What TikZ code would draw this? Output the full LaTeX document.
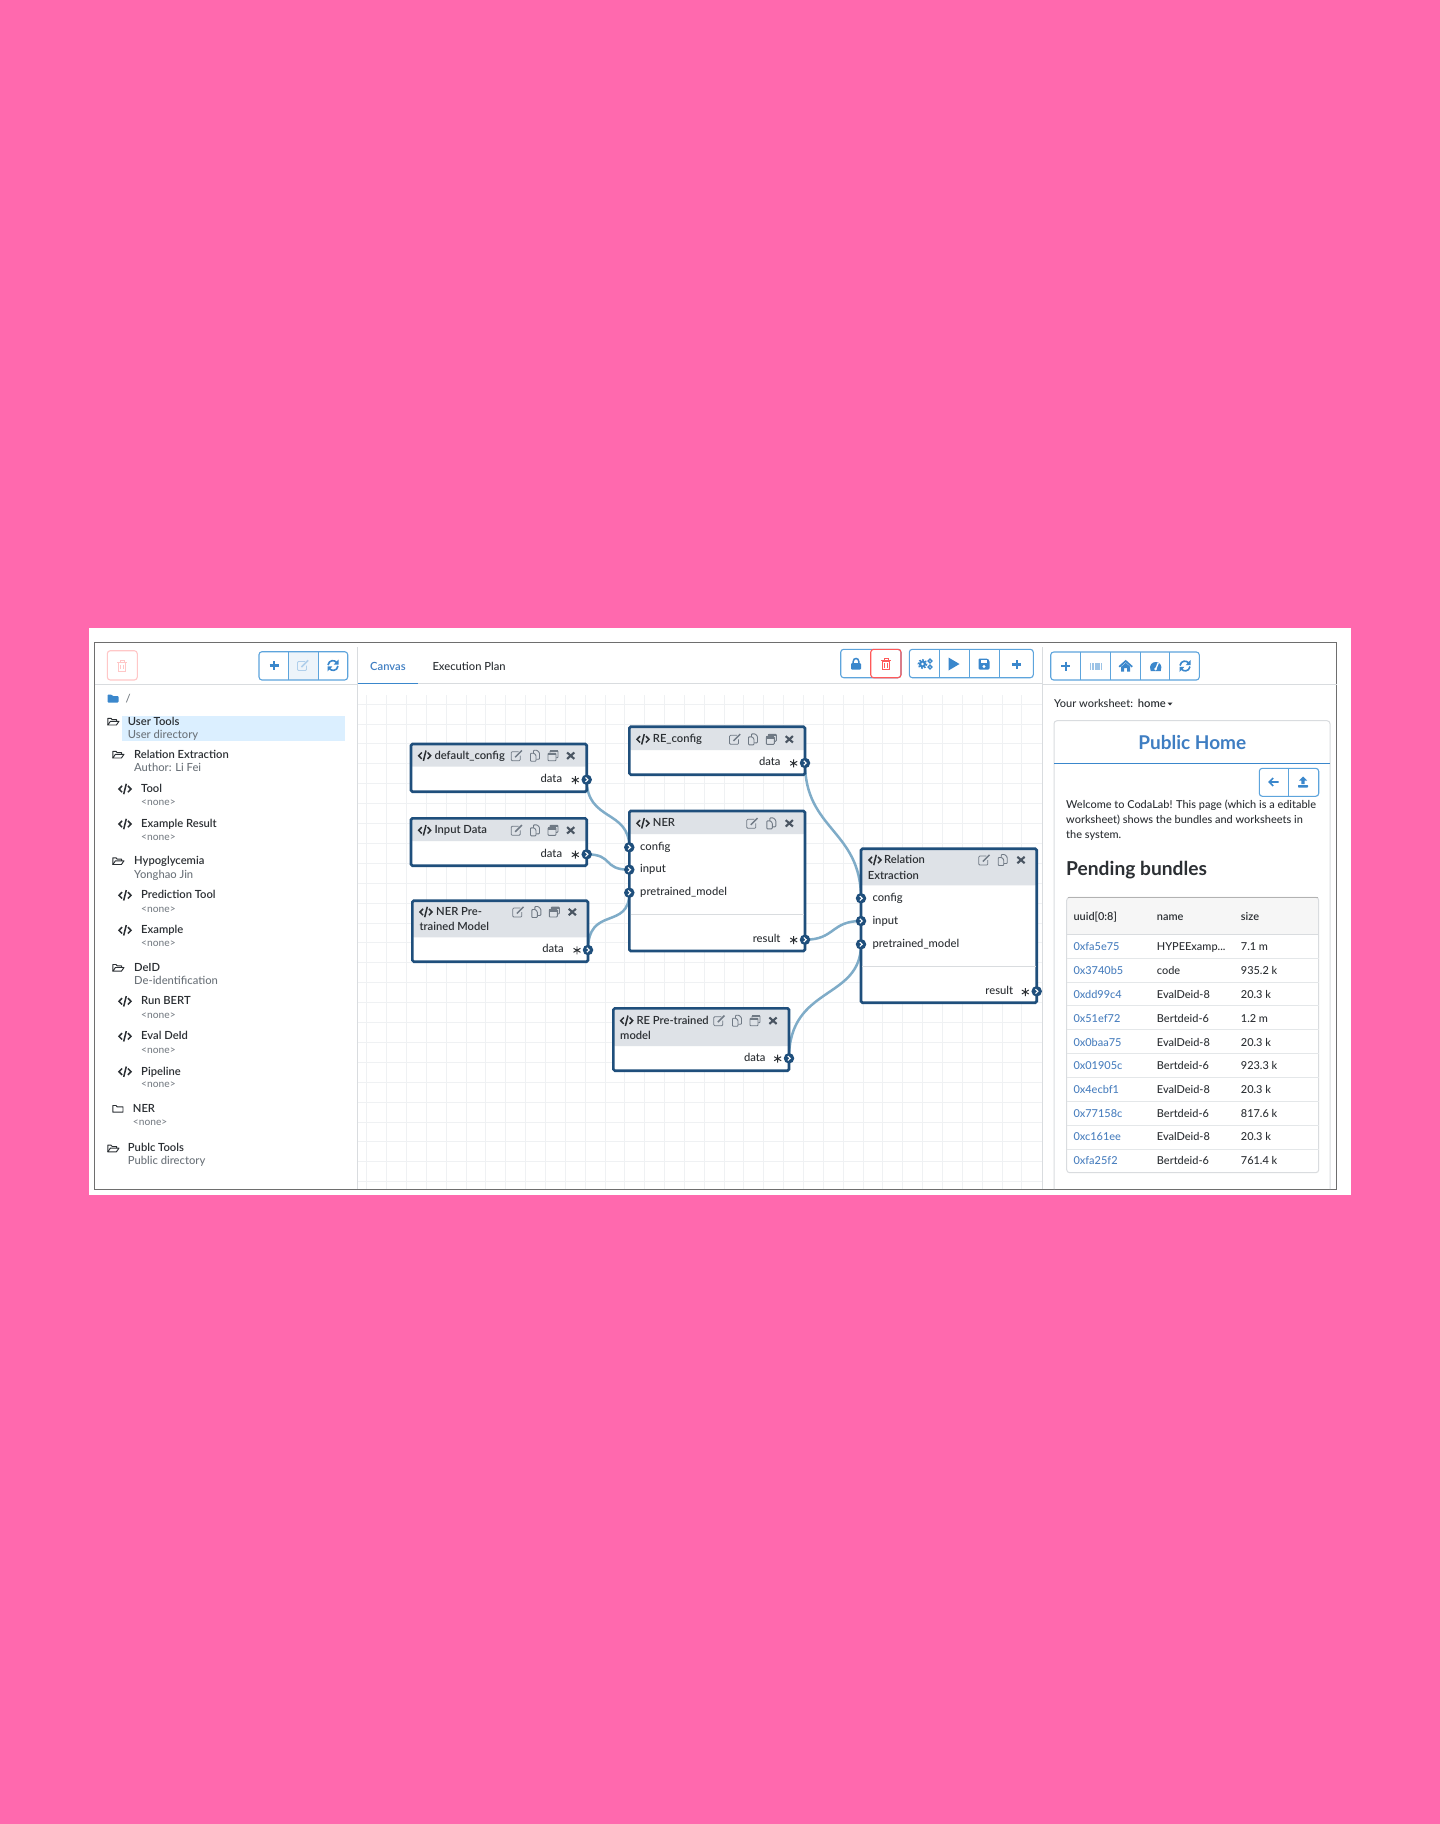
\documentclass[tikz,border=0pt]{standalone}
\usepackage{fontspec}
\setmainfont{Lato Medium}[BoldFont={Lato Bold}]
\newfontfamily\semib{Lato Semibold}
\newfontfamily\heavy{Lato Bold}
\usetikzlibrary{fit}
\pgfdeclarelayer{back}
\pgfsetlayers{back,main}
\definecolor{pagepink}{HTML}{FF69AE}
\definecolor{ink}{HTML}{2B2F33}
\definecolor{subtext}{HTML}{6C737A}
\definecolor{nonetext}{HTML}{7A8087}
\definecolor{blockblue}{HTML}{1F4F7C}
\definecolor{headgrey}{HTML}{DEE2E7}
\definecolor{wireblue}{HTML}{7FACC8}
\definecolor{gridgrey}{HTML}{EFF1F3}
\definecolor{frame}{HTML}{6E6E6E}
\definecolor{rulegrey}{HTML}{D9DCDF}
\definecolor{btnblue}{HTML}{5DA4DC}
\definecolor{icoblue}{HTML}{3A87CC}
\definecolor{linkblue}{HTML}{4B80BF}
\definecolor{titleblue}{HTML}{3F7EC2}
\definecolor{iconcol}{HTML}{707A85}
\definecolor{xcol}{HTML}{4A5562}
\newcounter{tn}
\newcommand\hypename{HYPEExamp...}
\tikzset{
 autoname/.code={\stepcounter{tn}\tikzset{name=t\arabic{tn}}},
 txt/.style={autoname,anchor=west,inner sep=0pt,text=ink,text height=9.3pt,text depth=2.5pt,font=\fontsize{11.2pt}{13pt}\selectfont},
 rtxt/.style={txt,anchor=east},
 title/.style={txt,font=\semib\fontsize{11.2pt}{13pt}\selectfont},
 subt/.style={txt,text=subtext,font=\fontsize{11.2pt}{13pt}\selectfont},
 nonet/.style={txt,text=nonetext,font=\fontsize{10.2pt}{11pt}\selectfont},
 cell/.style={txt,font=\fontsize{10.95pt}{12pt}\selectfont},
 headcell/.style={txt,font=\semib\fontsize{10.95pt}{12pt}\selectfont},
 blockbg/.style={inner sep=0pt,rectangle,fill=white,rounded corners=1.5pt},
 blockhead/.style={inner sep=0pt,rectangle,fill=headgrey,rounded corners=1.5pt},
 blockline/.style={inner sep=0pt,rectangle,draw=blockblue,line width=2.6pt,rounded corners=1.5pt},
 portdot/.style={circle,fill=blockblue,inner sep=0pt,minimum size=10.5pt},
 wire/.style={draw=wireblue,line width=2.5pt,line cap=round},
 btngroup/.style={inner sep=0pt,rectangle,draw=btnblue,line width=1.1pt,rounded corners=3pt},
 btnsep/.style={draw=btnblue,line width=1pt},
 pics/icoedit/.style={code={
  \draw[line width=.8pt,rounded corners=1pt] (2,-4)--(-5.5,-4)--(-5.5,5)--(3.5,5)--(3.5,0);
  \draw[line width=1.5pt] (-1.5,1.5)--(5.2,-5.2);}},
 pics/icocopy/.style={code={
  \draw[line width=.9pt,rounded corners=.8pt] (-1.5,-2)--(-1.5,-5.5)--(2,-5.5)--(4.5,-3)--(4.5,3.5)--(1,3.5);
  \draw[line width=.9pt,rounded corners=.8pt,fill=headgrey] (-4.5,-2.5)--(-1,-2.5)--(1,-.5)--(1,5.5)--(-4.5,5.5)--cycle;}},
 pics/icoclone/.style={code={
  \draw[line width=.9pt,rounded corners=.8pt] (-3,-3)--(-3,-5)--(5,-5)--(5,2)--(3,2);
  \draw[line width=.9pt,rounded corners=.8pt] (-5,-2.5) rectangle (3,5);
  \fill (-5,-3) rectangle (3,-.5); \fill (-3,-5.3) rectangle (5,-3.5);}},
 pics/icotimes/.style={code={
  \draw[line width=2.1pt] (-3.6,-3.2)--(3.6,3.2) (-3.6,3.2)--(3.6,-3.2);}},
 pics/icocode/.style={code={
  \draw[line width=1.5pt] (-2.9,-3.2)--(-6,0)--(-2.9,3.2) (2.9,-3.2)--(6,0)--(2.9,3.2) (1.3,-5.2)--(-1.3,5.2);}},
 pics/icostar/.style={code={
  \draw[line width=.95pt] (0,-4)--(0,4) (-3.5,-2)--(3.5,2) (-3.5,2)--(3.5,-2);}},
 pics/icoplus/.style={code={
  \draw[line width=2.2pt] (-4.5,0)--(4.5,0) (0,-4.5)--(0,4.5);}},
 pics/icorefresh/.style={code={
  \draw[line width=1.6pt] (-5,-.5) .. controls (-4,-6) and (2,-6) .. (4,-2.5);
  \fill (5.5,-6)--(5.5,-.8)--(.6,-.8)--cycle;
  \draw[line width=1.6pt] (5,.5) .. controls (4,6) and (-2,6) .. (-4,2.5);
  \fill (-5.5,6)--(-5.5,.8)--(-.6,.8)--cycle;}},
 pics/icotrash/.style={code={
  \draw[line width=1pt] (-3.8,-3) rectangle (3.8,5.5);
  \draw[line width=1pt] (-5,-3.2)--(5,-3.2) (-2,-3.2)--(-2,-5.3)--(2,-5.3)--(2,-3.2) (-1.3,-1)--(-1.3,3.5) (1.3,-1)--(1.3,3.5);}},
 pics/icolock/.style={code={
  \draw[line width=1.5pt] (-2.8,0)--(-2.8,-2.5) .. controls (-2.8,-6.5) and (2.8,-6.5) .. (2.8,-2.5)--(2.8,0);
  \fill[rounded corners=1pt] (-5,-1) rectangle (5,5.5);}},
 pics/icogears/.style={code={
  \fill (-2.5,0) circle (3.6);
  \draw[line width=1.5pt,dash pattern=on 1.6pt off 1.6pt] (-2.5,0) circle (4.2);
  \fill[white] (-2.5,0) circle (1.3);
  \draw[line width=1.3pt] (5,-3) circle (1.9) (5,3) circle (1.9);}},
 pics/icoplay/.style={code={\fill (-5.5,-6.5)--(5.5,0)--(-5.5,6.5)--cycle;}},
 pics/icosave/.style={code={
  \fill[rounded corners=1.2pt] (-5.5,-5.5)--(3.5,-5.5)--(5.5,-3.5)--(5.5,5.5)--(-5.5,5.5)--cycle;
  \fill[white] (-3.5,-4)rectangle(2.5,-1);
  \fill[white] (0,2.5) circle (1.6);}},
 pics/icobarcode/.style={code={
  \foreach \xx/\ww in {-6/1.2,-4/.7,-2.6/1.2,-.8/.7,.6/1.2,2.2/.7,3.6/.7,5/1.3}{\fill (\xx,-3.5) rectangle ++(\ww,7);}}},
 pics/icohome/.style={code={
  \draw[line width=1.7pt] (-6.5,.8)--(0,-5)--(6.5,.8);
  \fill (-4.5,0.7)--(0,-3.2)--(4.5,.7)--(4.5,5.5)--(1.5,5.5)--(1.5,2)--(-1.5,2)--(-1.5,5.5)--(-4.5,5.5)--cycle;}},
 pics/icodash/.style={code={
  \fill (-5,5) .. controls (-9.5,-7) and (9.5,-7) .. (5,5)--cycle;
  \draw[white,line width=1.3pt] (0,3)--(2.5,-3);
  \fill[white] (0,3) circle (1.5);}},
 pics/icoleft/.style={code={
  \draw[line width=1.6pt] (5,0)--(-4.5,0) (-.5,-4)--(-4.5,0)--(-.5,4);}},
 pics/icoupload/.style={code={
  \fill (0,-5.5)--(4,-1.5)--(1.7,-1.5)--(1.7,2)--(-1.7,2)--(-1.7,-1.5)--(-4,-1.5)--cycle;
  \fill[rounded corners=.6pt] (-5,3) rectangle (5,5.5);}},
 pics/icofopen/.style={code={
  \draw[line width=.95pt,line join=round] (-5.2,3.5)--(-5.2,-3.2)--(-2,-3.2)--(-.8,-1.8)--(3.6,-1.8)--(3.6,-.2);
  \draw[line width=.95pt,line join=round] (-5.2,3.5)--(-2.6,-.2)--(6,-.2)--(3.4,3.5)--cycle;}},
 pics/icofclosed/.style={code={
  \draw[line width=.95pt,line join=round] (-5.2,3.5)--(-5.2,-3.2)--(-2,-3.2)--(-.8,-1.8)--(5,-1.8)--(5,3.5)--cycle;}},
 pics/icofsolid/.style={code={
  \fill[rounded corners=.8pt] (-5.5,4)--(-5.5,-4)--(-1.5,-4)--(-.2,-2.4)--(5.5,-2.4)--(5.5,4)--cycle;}},
}
\newcommand\block[6]{%
 \node[blockbg,fit={(#2,#3)(#4,#5)}] (#1bg) {};
 \node[blockhead,fit={(#2,#3)(#4,#6)}] (#1hd) {};
 \node[blockline,fit={(#2,#3)(#4,#5)}] (#1) {};}
\newcommand\portat[3]{%
 \node[portdot] (#1) at (#2,#3) {};
 \draw[white,line width=1.1pt] ([shift={(-1.2,-2.2)}]#1.center)--([shift={(1.2,0)}]#1.center)--([shift={(-1.2,2.2)}]#1.center);}
\newcommand\headicons[5]{% y, edit, copy, clone(or empty), times
 \pic[color=iconcol] at (#2,#1) {icoedit};
 \pic[color=iconcol] at (#3,#1) {icocopy};
 \ifx\relax#4\relax\else\pic[color=iconcol] at (#4,#1) {icoclone};\fi
 \pic[color=xcol] at (#5,#1) {icotimes};}
\begin{document}
\begin{tikzpicture}[x=1pt,y=-1pt]
\useasboundingbox (0,0) rectangle (1440,1824);
\begin{pgfonlayer}{back}
\fill[pagepink] (0,0) rectangle (1440,1824);
\fill[white] (89,628) rectangle (1351,1195);
\foreach \k in {0,...,33} {\draw[gridgrey,line width=.8pt] ({366.7+\k*19.85},695)--({366.7+\k*19.85},1189);}
\foreach \k in {0,...,24} {\draw[gridgrey,line width=.8pt] (357,{704+\k*19.9})--(1042,{704+\k*19.9});}
\draw[frame,line width=1pt] (94.5,642.5) rectangle (1336.5,1189);
\draw[rulegrey,line width=1pt] (357,647)--(357,1189);
\draw[rulegrey,line width=1pt] (1042.5,647)--(1042.5,1189);
\draw[rulegrey,line width=1pt] (94.5,684)--(357,684) (357,683.5)--(1042.5,683.5) (1042.5,684)--(1336.5,684);
\end{pgfonlayer}

% --- left panel
\node[btngroup,draw=red!22,fit={(107.3,650.7)(137.3,680)}] (bdel) {};
\pic[color=red!22] at (122,665.5) {icotrash};
\fill[icoblue!9] (288.7,652.2) rectangle (318.3,679.5);
\node[btngroup,fit={(259,651.7)(347.7,680)}] (bleft) {};
\draw[btnsep] (288.7,651.7)--(288.7,680) (318.3,651.7)--(318.3,680);
\pic[color=icoblue] at (274,665.5) {icoplus};
\pic[color=icoblue!40] at (303,665.5) {icoedit};
\pic[color=icoblue] at (333,665.5) {icorefresh};
\pic[color=icoblue] at (113,698.5) {icofsolid};
\node[subt] at (125.5,699) {/};
\fill[blue!45!cyan!14] (122,715.7) rectangle (345,740.7);
\pic[color=ink] at (113,721.5) {icofopen};
\node[title] at (127.7,721.7) {User Tools};
\node[subt] at (127.7,734.7) {User directory};
\pic[color=ink] at (118,754.5) {icofopen};
\node[title] at (134,754.7) {Relation Extraction};
\node[subt] at (134,768.3) {Author: Li Fei};
\pic[color=ink] at (125,789) {icocode};
\node[title] at (141,789) {Tool};
\node[nonet] at (141,802.3) {<none>};
\pic[color=ink] at (125,824) {icocode};
\node[title] at (141,824) {Example Result};
\node[nonet] at (141,837) {<none>};
\pic[color=ink] at (118,861) {icofopen};
\node[title] at (134,861) {Hypoglycemia};
\node[subt] at (134,874.7) {Yonghao Jin};
\pic[color=ink] at (125,895.3) {icocode};
\node[title] at (141,895.3) {Prediction Tool};
\node[nonet] at (141,908.7) {<none>};
\pic[color=ink] at (125,930.3) {icocode};
\node[title] at (141,930.3) {Example};
\node[nonet] at (141,943.3) {<none>};
\pic[color=ink] at (118,967.7) {icofopen};
\node[title] at (134,967.7) {DeID};
\node[subt] at (134,980.7) {De-identification};
\pic[color=ink] at (125,1001.3) {icocode};
\node[title] at (141,1001.3) {Run BERT};
\node[nonet] at (141,1015) {<none>};
\pic[color=ink] at (125,1036.3) {icocode};
\node[title] at (141,1036.3) {Eval DeId};
\node[nonet] at (141,1050) {<none>};
\pic[color=ink] at (125,1071.7) {icocode};
\node[title] at (141,1071.7) {Pipeline};
\node[nonet] at (141,1084.3) {<none>};
\pic[color=ink] at (118,1108.7) {icofclosed};
\node[title] at (132.7,1108.7) {NER};
\node[nonet] at (132.7,1122.3) {<none>};
\pic[color=ink] at (113,1148.3) {icofopen};
\node[title] at (127.7,1148.3) {Publc Tools};
\node[subt] at (127.7,1161.3) {Public directory};

% --- canvas tabs and toolbar
\node[title,text=titleblue] at (370,666.7) {Canvas};
\draw[icoblue,line width=1.2pt] (357.5,683.5)--(418,683.5);
\node[txt] at (432.3,666.7) {Execution Plan};
\node[btngroup,fit={(840.7,649.3)(901,677.7)}] (block) {};
\node[btngroup,draw=red!65,fit={(870.7,649.3)(901,677.7)}] (bred) {};
\pic[color=icoblue] at (856,664) {icolock};
\pic[color=red!65] at (886,664) {icotrash};
\node[btngroup,fit={(909.3,649.3)(1033.3,677.7)}] (bmid) {};
\draw[btnsep] (939.3,649.3)--(939.3,677.7) (969.3,649.3)--(969.3,677.7) (999.3,649.3)--(999.3,677.7);
\pic[color=icoblue] at (925,664) {icogears};
\pic[color=icoblue] at (954,664) {icoplay};
\pic[color=icoblue] at (984,664) {icosave};
\pic[color=icoblue] at (1016.7,664.5) {icoplus};

% --- blocks
\block{dc}{411}{744}{586.7}{791.7}{766.7}
\pic[color=ink] at (424.7,755.7) {icocode};
\node[title] at (434.3,755.7) {default\_config};
\headicons{755.7}{516.7}{535}{553}{570.7}
\node[rtxt] at (562.3,779) {data};
\pic[color=ink] at (575.3,780) {icostar};

\block{id}{411}{818.3}{586.7}{865.7}{841}
\pic[color=ink] at (424.7,830.3) {icocode};
\node[title] at (434.3,830.3) {Input Data};
\headicons{830.3}{516.7}{535}{553}{570.7}
\node[rtxt] at (562.3,853.7) {data};
\pic[color=ink] at (575.3,854.7) {icostar};

\block{np}{412.3}{900.7}{588}{961.7}{937.3}
\pic[color=ink] at (426,912) {icocode};
\node[title] at (436,912) {NER Pre-};
\node[title] at (419.3,927) {trained Model};
\headicons{912}{518.3}{536.3}{554.3}{572.3}
\node[rtxt] at (564,949.3) {data};
\pic[color=ink] at (577,950.3) {icostar};

\block{rc}{629.3}{726.7}{805}{774.7}{750}
\pic[color=ink] at (643,739.3) {icocode};
\node[title] at (652.7,739.3) {RE\_config};
\headicons{739.3}{735}{753}{771.3}{789.3}
\node[rtxt] at (780.7,762.3) {data};
\pic[color=ink] at (793.7,763.3) {icostar};

\block{ner}{629.3}{811}{805}{951}{834}
\draw[rulegrey,line width=.8pt] (630.5,914.3)--(804,914.3);
\pic[color=ink] at (643,823.3) {icocode};
\node[title] at (652.7,823.3) {NER};
\headicons{823.3}{752.3}{771.3}{}{789.3}
\node[txt] at (640,846.7) {config};
\node[txt] at (640,869.3) {input};
\node[txt] at (640,892) {pretrained\_model};
\node[rtxt] at (780.7,939) {result};
\pic[color=ink] at (793.7,940) {icostar};

\block{rel}{861}{848.7}{1036.7}{1002.7}{885.3}
\draw[rulegrey,line width=.8pt] (862,966)--(1035.5,966);
\pic[color=ink] at (875,860) {icocode};
\node[title] at (884,860) {Relation};
\node[title] at (867.7,876) {Extraction};
\headicons{860}{984.3}{1002.7}{}{1021}
\node[txt] at (872.3,898) {config};
\node[txt] at (872.3,920.7) {input};
\node[txt] at (872.3,943.7) {pretrained\_model};
\node[rtxt] at (1013.3,991) {result};
\pic[color=ink] at (1025.3,992) {icostar};

\block{rp}{613.3}{1008.3}{789}{1070.7}{1046}
\pic[color=ink] at (626.7,1020.7) {icocode};
\node[title] at (636.3,1020.7) {RE Pre-trained};
\node[title] at (620,1036) {model};
\headicons{1020.7}{719.3}{737}{755}{773}
\node[rtxt] at (765.7,1057.7) {data};
\pic[color=ink] at (777.7,1058.7) {icostar};

% --- ports
\portat{dcout}{586.7}{779.7}
\portat{idout}{586.7}{854.3}
\portat{npout}{588}{950}
\portat{rcout}{805}{763}
\portat{rpout}{789}{1058.3}
\portat{nera}{629.3}{847.3}
\portat{nerb}{629.3}{869.7}
\portat{nerc}{629.3}{892.7}
\portat{nerout}{805}{939.7}
\portat{rela}{861}{898.3}
\portat{relb}{861}{921}
\portat{relc}{861}{944.3}
\portat{relout}{1036.7}{991.3}

% --- wires, behind the blocks
\begin{pgfonlayer}{back}
\draw[wire] (dcout.center) .. controls ([yshift=-42pt]dcout.center) and ([yshift=38pt]nera.center) .. (nera.center);
\draw[wire] (idout.center) .. controls ([xshift=27pt]idout.center) and ([xshift=-27pt]nerb.center) .. (nerb.center);
\draw[wire] (npout.center) .. controls ([yshift=45pt]npout.center) and ([yshift=-38pt]nerc.center) .. (nerc.center);
\draw[wire] (rcout.center) .. controls ([yshift=-67pt]rcout.center) and ([yshift=68pt]rela.center) .. (rela.center);
\draw[wire] (nerout.center) .. controls ([xshift=30pt]nerout.center) and ([xshift=-30pt]relb.center) .. (relb.center);
\draw[wire] (rpout.center) .. controls ([yshift=73pt]rpout.center) and ([yshift=-56pt]relc.center) .. (relc.center);
\end{pgfonlayer}

% --- right panel
\node[btngroup,fit={(1050.7,652)(1199.3,680)}] (bright) {};
\draw[btnsep] (1080.7,652)--(1080.7,680) (1110.3,652)--(1110.3,680) (1140.3,652)--(1140.3,680) (1169.7,652)--(1169.7,680);
\pic[color=icoblue] at (1065.7,666) {icoplus};
\pic[color=icoblue!50] at (1095.7,666) {icobarcode};
\pic[color=icoblue] at (1125.7,666) {icohome};
\pic[color=icoblue] at (1155.7,666) {icodash};
\pic[color=icoblue] at (1185,666) {icorefresh};
\node[txt,font=\fontsize{11pt}{13pt}\selectfont] at (1054,704) {Your worksheet:};
\node[title] at (1137.7,704) {home};
\fill[ink] (1167.5,702.5)--(1172.5,702.5)--(1170,705.5)--cycle;
\draw[rulegrey,line width=1pt,rounded corners=3pt] (1054,1189)--(1054,720.7)--(1330,720.7)--(1330,1189);
\node[txt,anchor=center,text height=13pt,text depth=4pt,text=titleblue,font=\heavy\fontsize{19pt}{22pt}\selectfont] at (1192.3,744.6) {Public Home};
\draw[icoblue,line width=1.2pt] (1054,763.3)--(1330,763.3);
\node[btngroup,fit={(1259.3,768.3)(1318.7,796.3)}] (bpair) {};
\draw[btnsep] (1288.3,768.3)--(1288.3,796.3);
\pic[color=icoblue] at (1273.7,782) {icoleft};
\pic[color=icoblue] at (1303,782) {icoupload};
\node[cell] at (1066,804.7) {Welcome to CodaLab!  This page (which is a editable};
\node[cell] at (1066,820) {worksheet) shows the bundles and worksheets in};
\node[cell] at (1066,834.7) {the system.};
\node[txt,text height=13pt,text depth=4pt,font=\heavy\fontsize{19.2pt}{22pt}\selectfont] at (1066,871.3) {Pending bundles};

\fill[gray!7,rounded corners=2pt] (1066.7,897.3) rectangle (1318.7,934.3);
\draw[rulegrey,line width=1pt,rounded corners=3pt] (1066.7,897.3) rectangle (1318.7,1172.7);
\draw[gray!60,line width=1.2pt] (1068,897.5)--(1317.5,897.5);
\draw[rulegrey,line width=.8pt] (1066.7,934.3)--(1318.7,934.3);
\foreach \yy in {958.7,982.3,1005.7,1029.3,1053.3,1077.3,1101.3,1125.3,1149.3} {\draw[rulegrey!70,line width=.8pt] (1066.7,\yy)--(1318.7,\yy);}
\node[headcell] at (1073.3,916.7) {uuid[0:8]};
\node[headcell] at (1156.7,916.7) {name};
\node[headcell] at (1240.7,916.7) {size};
\foreach \yy/\uu/\nn/\ss in {
 947/0xfa5e75/\hypename/7.1 m,
 971/0x3740b5/code/935.2 k,
 995/0xdd99c4/EvalDeid-8/20.3 k,
 1018.7/0x51ef72/Bertdeid-6/1.2 m,
 1042.7/0x0baa75/EvalDeid-8/20.3 k,
 1066.3/0x01905c/Bertdeid-6/923.3 k,
 1090/0x4ecbf1/EvalDeid-8/20.3 k,
 1113.7/0x77158c/Bertdeid-6/817.6 k,
 1137.3/0xc161ee/EvalDeid-8/20.3 k,
 1161.3/0xfa25f2/Bertdeid-6/761.4 k} {
 \node[cell,text=linkblue] at (1073.3,\yy) {\uu};
 \node[cell] at (1156.7,\yy) {\nn};
 \node[cell] at (1240.7,\yy) {\ss};
}
\end{tikzpicture}
\end{document}
